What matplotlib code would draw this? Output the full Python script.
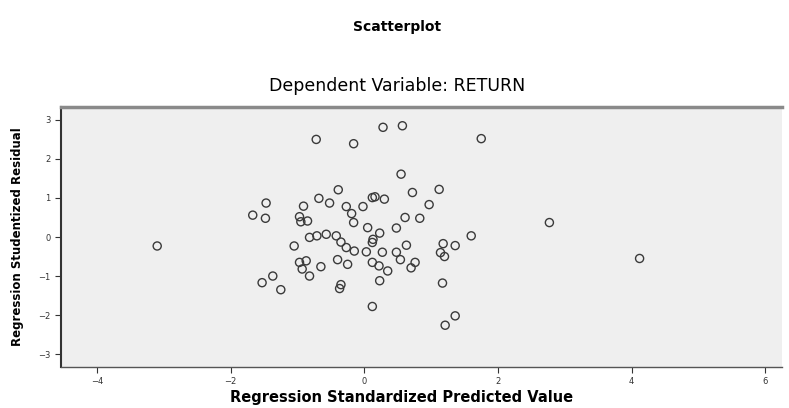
import matplotlib.pyplot as plt

# Regression standardized predicted value (x) and studentized residual (y)
pred = [-3.10, -0.72, -0.16, 0.28, 0.57, 1.75, 0.55, -0.39, -1.47, -1.67,
        -1.48, -0.91, -0.68, -0.52, -0.27, -0.02, -0.19, -0.16, 0.12, 0.16,
        0.30, 0.72, 1.12, 0.97, 0.61, 0.83, 0.48, 0.05, 0.23, 0.12,
        0.13, -0.97, -0.95, -0.85, -1.05, -0.82, -0.71, -0.57, -0.42, -0.35,
        0.63, -0.27, -0.15, 0.03, 0.27, 0.48, 0.12, 0.22, 0.35, 0.54,
        0.70, 0.76, 1.18, 1.36, 1.14, 1.20, 1.60, 2.77, 4.12, 0.23,
        1.17, 1.36, 1.21, 0.12, -0.87, -0.97, -0.93, -0.65, -0.82, -0.40,
        -0.25, -1.53, -1.37, -1.25, -0.35, -0.37]
resid = [-0.23, 2.50, 2.39, 2.81, 2.85, 2.52, 1.61, 1.21, 0.87, 0.56,
         0.48, 0.79, 0.99, 0.87, 0.78, 0.78, 0.60, 0.37, 1.01, 1.03,
         0.97, 1.14, 1.22, 0.83, 0.50, 0.48, 0.23, 0.24, 0.10, -0.14,
         -0.06, 0.52, 0.39, 0.41, -0.23, -0.01, 0.03, 0.07, 0.03, -0.13,
         -0.21, -0.27, -0.36, -0.38, -0.39, -0.39, -0.65, -0.74, -0.87, -0.58,
         -0.79, -0.65, -0.17, -0.22, -0.40, -0.50, 0.03, 0.37, -0.55, -1.12,
         -1.18, -2.02, -2.26, -1.78, -0.61, -0.65, -0.82, -0.76, -1.00, -0.58,
         -0.70, -1.17, -1.00, -1.35, -1.22, -1.32]

xticks = [-4, -2, 0, 2, 4, 6]
yticks = [-3, -2, -1, 0, 1, 2, 3]

fig = plt.figure(figsize=(7.89, 4.08), dpi=100)
ax = fig.add_axes([0.0773, 0.1005, 0.9137, 0.6372])
ax.set_facecolor('#efefef')

ax.scatter(pred, resid, s=34, facecolors='none', edgecolors='#3a3a3a', linewidths=1.0)

ax.set_xlim(-4.54, 6.25)
ax.set_ylim(-3.33, 3.33)
ax.set_xticks(xticks)
ax.set_yticks(yticks)
ax.tick_params(labelsize=6, length=4, width=0.8, colors='#333333')

ax.spines['right'].set_visible(False)
ax.spines['top'].set_color('#8a8a8a')
ax.spines['top'].set_linewidth(2.5)
ax.spines['left'].set_color('#333333')
ax.spines['left'].set_linewidth(1.5)
ax.spines['bottom'].set_color('#555555')
ax.spines['bottom'].set_linewidth(1.0)

ax.set_xlabel('Regression Standardized Predicted Value', fontsize=10.5,
              fontweight='bold')
ax.xaxis.set_label_coords(0.472, -0.09)
ax.set_ylabel('Regression Studentized Residual', fontsize=8.5,
              fontweight='bold', labelpad=10)

fig.text(0.503, 0.935, 'Scatterplot', ha='center', va='center', fontsize=10,
         fontweight='bold')
fig.text(0.503, 0.79, 'Dependent Variable: RETURN', ha='center', va='center',
         fontsize=12.5)

fig.savefig('out.png', dpi=100)
